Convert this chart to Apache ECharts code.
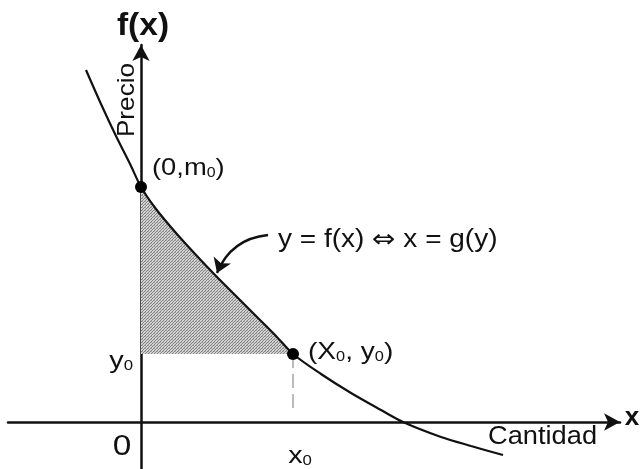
<!DOCTYPE html>
<html>
<head>
<meta charset="utf-8">
<script src="https://cdn.jsdelivr.net/npm/echarts@6/dist/echarts.min.js"></script>
<style>
  html, body { margin: 0; padding: 0; background: #ffffff; }
  #chart { width: 642px; height: 469px; }
</style>
</head>
<body>
<div id="chart"></div>
<script>
// Demand curve y = f(x): quantity (x) and price (y) samples
const curveX = [-5.5, -4, -2.5, -1, 0, 1.5, 3.5, 5.5, 7.5, 9.5, 11.5, 13.5, 15.2, 18, 21, 24, 26.2, 30, 33, 36.2];
const curveY = [35.2, 31.8, 28.6, 25.6, 23.5, 21.3, 18.9, 16.7, 14.6, 12.6, 10.6, 8.6, 6.8, 4.8, 2.9, 1.2, 0, -1.5, -2.4, -3.3];

// Key points: intercept (0, m0) and equilibrium (x0, y0)
const m0 = 23.5;
const x0 = 15.2;
const y0 = 6.8;

// Callout arrow pointing at the curve (tail, head)
const calloutTail = [12.7, 18.7];
const calloutHead = [7.6, 14.9];

// Foot of the dashed guide under x0
const guideBottom = 1.2;

// Text
const yAxisTitle = 'f(x)';
const xAxisTitle = 'x';
const priceLabel = 'Precio';
const quantityLabel = 'Cantidad';
const equationLabel = 'y = f(x) {arr|\u21D4} x = g(y)';

const curve = curveX.map((x, i) => [x, curveY[i]]);
const surplus = curve.filter(p => p[0] >= 0 && p[0] <= x0);

// Stippled grey fill for the shaded region
function stipple() {
  const c = document.createElement('canvas');
  c.width = 3; c.height = 3;
  const g = c.getContext('2d');
  g.fillStyle = '#d2d2d2';
  g.fillRect(0, 0, 3, 3);
  g.fillStyle = '#858585';
  g.fillRect(0, 0, 1, 1);
  g.fillRect(2, 1, 1, 1);
  g.fillRect(1, 2, 1, 1);
  g.fillStyle = '#ababab';
  g.fillRect(1, 0, 1, 1);
  return c;
}

const FONT = '"Liberation Sans", Arial, Helvetica, sans-serif';
const ink = '#111111';

const chart = echarts.init(document.getElementById('chart'), null, { renderer: 'canvas' });

const sub = { fontSize: 14, fontFamily: FONT, fill: ink, verticalAlign: 'bottom' };

// Helper for annotation text
function label(x, y, text, font, align, scaleX, extra) {
  return Object.assign({
    type: 'text', x: x, y: y, scaleX: scaleX,
    style: { text: text, font: font + ' ' + FONT, fill: ink, align: align, verticalAlign: 'middle', rich: { s: sub } }
  }, extra || {});
}

chart.setOption({
  animation: false,
  backgroundColor: '#ffffff',
  grid: { left: 8, right: 22, top: 45, bottom: 0 },
  xAxis: {
    type: 'value', min: -13.3, max: 47.9,
    axisLine: { onZero: true, symbol: ['none', 'arrow'], symbolSize: [13, 16], lineStyle: { color: ink, width: 2.5 } },
    axisTick: { show: false }, axisLabel: { show: false }, splitLine: { show: false }
  },
  yAxis: {
    type: 'value', min: -4.7, max: 37.7,
    axisLine: { onZero: true, symbol: ['none', 'arrow'], symbolSize: [13, 16], lineStyle: { color: ink, width: 2.5 } },
    axisTick: { show: false }, axisLabel: { show: false }, splitLine: { show: false }
  },
  series: [
    {
      name: 'surplus', type: 'line', data: surplus, smooth: 0.3, showSymbol: false,
      lineStyle: { width: 0 },
      areaStyle: { origin: y0, color: { image: stipple(), repeat: 'repeat' }, opacity: 1 },
      z: 1
    },
    {
      name: 'demand', type: 'line', data: curve, smooth: 0.3, showSymbol: false,
      lineStyle: { color: ink, width: 2.2 }, z: 3
    },
    {
      name: 'guide', type: 'line', data: [[x0, y0], [x0, guideBottom]], showSymbol: false,
      lineStyle: { color: '#777777', width: 1, type: [14, 6] }, z: 2
    },
    {
      name: 'points', type: 'scatter', data: [[0, m0], [x0, y0]], symbolSize: 12,
      itemStyle: { color: '#000000', opacity: 1 }, z: 5
    },
    {
      name: 'callout', type: 'lines', coordinateSystem: 'cartesian2d',
      data: [{ coords: [calloutTail, calloutHead] }],
      symbol: ['none', 'arrow'], symbolSize: 14,
      lineStyle: { color: ink, width: 2.4, curveness: -0.3, opacity: 1 }, z: 4
    }
  ],
  graphic: [
    label(143, 26, yAxisTitle, 'bold 31px', 'center', 1.08),
    label(127, 100, priceLabel, '24px', 'center', 1.09, { rotation: Math.PI / 2 }),
    label(152, 168, '(0,m{s|0})', '24px', 'left', 1.14),
    {
      type: 'text', x: 278, y: 240, scaleX: 1.12,
      style: {
        text: equationLabel, font: '25px ' + FONT, fill: ink, align: 'left', verticalAlign: 'middle',
        rich: { arr: { fontSize: 25, fontFamily: '"DejaVu Sans", sans-serif', fill: ink } }
      }
    },
    label(308, 352, '(X{s|0}, y{s|0})', '24px', 'left', 1.17),
    label(133, 361, 'y{s|0}', '24px', 'right', 1.2),
    label(122, 447, '0', '29px', 'center', 1.15),
    label(300, 456, 'x{s|0}', '24px', 'center', 1.2),
    label(488, 437, quantityLabel, '25px', 'left', 1.09),
    label(632, 418, xAxisTitle, 'bold 26px', 'center', 1.0)
  ]
});
</script>
</body>
</html>
